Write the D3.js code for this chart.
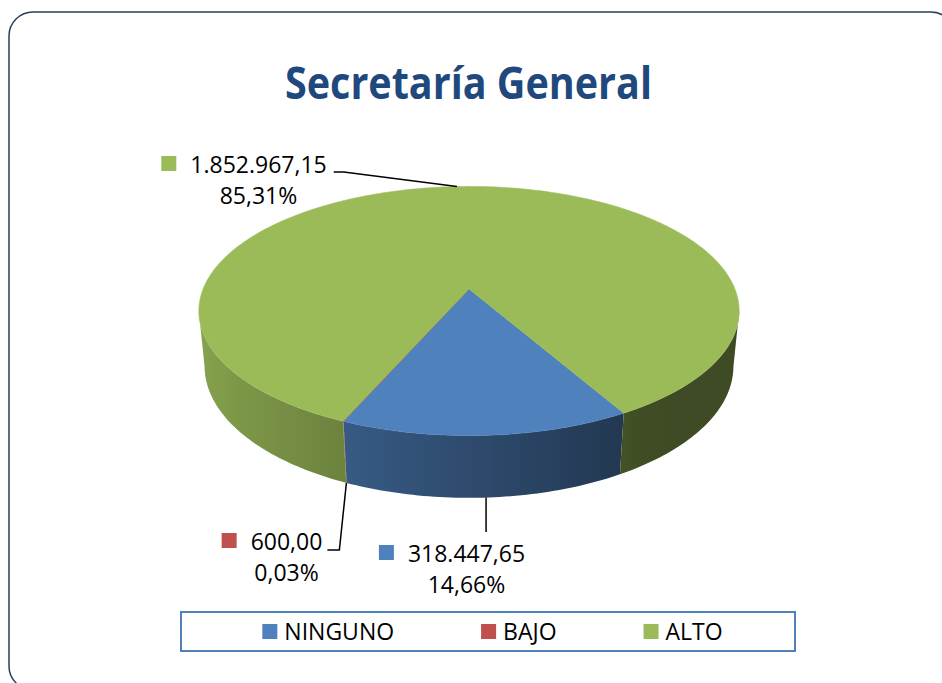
<!DOCTYPE html>
<meta charset="utf-8">
<title>Secretaría General</title>
<style>
  body { margin: 0; background: #fff; }
  text { font-family: "Open Sans", "DejaVu Sans", sans-serif; }
</style>
<body>
<script src="https://cdn.jsdelivr.net/npm/d3@7"></script>
<script>
  // chart data
  var chartTitle = "Secretaría General";
  var categories = ["NINGUNO", "BAJO", "ALTO"];
  var values = [318447.65, 600.00, 1852967.15];
  var valueLabels = ["318.447,65", "600,00", "1.852.967,15"];
  var percentLabels = ["14,66%", "0,03%", "85,31%"];
  var colors = ["#4F81BD", "#C0504D", "#9BBB59"];

  var width = 942, height = 683;

  var svg = d3.select("body").append("svg")
      .attr("width", width)
      .attr("height", height);
  var defs = svg.append("defs");

  // rounded outer frame (right and bottom edges run off the page)
  svg.append("rect")
      .attr("x", 9).attr("y", 12)
      .attr("width", 946).attr("height", 678)
      .attr("rx", 24).attr("ry", 24)
      .attr("fill", "#fff")
      .attr("stroke", "#243F60")
      .attr("stroke-width", 1.5);

  // title
  var titleText = svg.append("text")
      .attr("x", 468.5).attr("y", 99)
      .attr("text-anchor", "middle")
      .attr("font-size", 44)
      .attr("font-weight", "bold")
      .attr("fill", "#1F497D")
      .text(chartTitle);
  if (titleText.node().getComputedTextLength() > 367) {
    titleText.attr("textLength", 367).attr("lengthAdjust", "spacingAndGlyphs");
  }

  // 3d pie: perspective camera above and in front of the disk
  var tilt = 27 * Math.PI / 180, dist = 5.05, focal = 1343, thick = 0.235;
  var cx = 469, cy = 289;
  var startAngle = 150.5 * Math.PI / 180;

  function project(a, y) {
    var X = Math.sin(a), Z = -Math.cos(a);
    var yc = y * Math.cos(tilt) - Z * Math.sin(tilt);
    var d = dist - y * Math.sin(tilt) - Z * Math.cos(tilt);
    return [cx + focal * X / d, cy - focal * yc / d];
  }

  // light comes from the left
  function shade(c, a) {
    var k = Math.max(0.4, 0.58 + 0.30 * Math.cos(a - 1.5 * Math.PI));
    var rgb = d3.rgb(c);
    return d3.rgb(rgb.r * k, rgb.g * k, rgb.b * k).formatHex();
  }

  var pie = d3.pie().sort(null)
      .startAngle(startAngle)
      .endAngle(startAngle + 2 * Math.PI);
  var arcs = pie(values);

  // visible part of the side wall lies between the two silhouette angles
  var visLo = Math.acos(-Math.cos(tilt) / dist);
  var visHi = 2 * Math.PI - visLo;
  var walls = [];
  arcs.forEach(function(s, i) {
    [-2 * Math.PI, 0, 2 * Math.PI].forEach(function(shift) {
      var a0 = Math.max(s.startAngle, visLo + shift);
      var a1 = Math.min(s.endAngle, visHi + shift);
      if (a1 > a0) walls.push({a0: a0 - shift, a1: a1 - shift, i: i});
    });
  });

  var line = d3.line();
  var step = Math.PI / 180;

  function arcPoints(a0, a1, y) {
    var n = Math.max(2, Math.ceil((a1 - a0) / step));
    return d3.range(n + 1).map(function(j) { return project(a0 + (a1 - a0) * j / n, y); });
  }

  walls.forEach(function(w, k) {
    var id = "wall" + k;
    var x1 = project(w.a0, 0)[0], x2 = project(w.a1, 0)[0];
    var grad = defs.append("linearGradient")
        .attr("id", id)
        .attr("gradientUnits", "userSpaceOnUse")
        .attr("x1", x1).attr("y1", 0)
        .attr("x2", Math.abs(x2 - x1) < 0.5 ? x1 + 1 : x2).attr("y2", 0);
    d3.range(11).forEach(function(j) {
      var a = w.a0 + (w.a1 - w.a0) * j / 10;
      grad.append("stop")
          .attr("offset", Math.abs(x2 - x1) < 0.5 ? j / 10 : (project(a, 0)[0] - x1) / (x2 - x1))
          .attr("stop-color", shade(colors[w.i], a));
    });
    var pts = arcPoints(w.a0, w.a1, 0).concat(arcPoints(w.a0, w.a1, -thick).reverse());
    svg.append("path")
        .attr("d", line(pts) + "Z")
        .attr("fill", "url(#" + id + ")");
  });

  // top faces
  svg.append("g").selectAll("path")
      .data(arcs)
      .enter().append("path")
      .attr("d", function(s) {
        return line([[cx, cy]].concat(arcPoints(s.startAngle, s.endAngle, 0))) + "Z";
      })
      .attr("fill", function(s, i) { return colors[i]; })
      .attr("stroke", function(s, i) { return colors[i]; })
      .attr("stroke-width", 0.5);

  // data labels
  var labelLayout = [
    {x: 466.5, y: 562, leader: "down"},
    {x: 286.5, y: 550, leader: "side"},
    {x: 258.5, y: 173, leader: "top"}
  ];
  var fontSize = 23;

  arcs.forEach(function(s, i) {
    var pos = labelLayout[i];
    var mid = (s.startAngle + s.endAngle) / 2;
    var g = svg.append("g");
    var t = g.append("text")
        .attr("x", pos.x).attr("y", pos.y)
        .attr("text-anchor", "middle")
        .attr("font-size", fontSize)
        .attr("fill", "#000")
        .text(valueLabels[i]);
    g.append("text")
        .attr("x", pos.x).attr("y", pos.y + 31)
        .attr("text-anchor", "middle")
        .attr("font-size", fontSize)
        .attr("fill", "#000")
        .text(percentLabels[i]);
    var w = t.node().getComputedTextLength();
    g.append("rect")
        .attr("x", pos.x - w / 2 - 29).attr("y", pos.y - 17)
        .attr("width", 15).attr("height", 15)
        .attr("fill", colors[i]);

    var pts;
    if (pos.leader === "top") {
      pts = [[pos.x + w / 2 + 7, pos.y - 1], [pos.x + w / 2 + 17, pos.y - 1], project(mid, 0)];
    } else if (pos.leader === "side") {
      pts = [[pos.x + w / 2 + 5, pos.y], [pos.x + w / 2 + 17, pos.y], project(mid, -thick)];
    } else {
      var anchor = project(mid, -thick);
      pts = [[anchor[0], pos.y - 30], anchor];
    }
    g.append("path")
        .attr("d", line(pts))
        .attr("fill", "none")
        .attr("stroke", "#000")
        .attr("stroke-width", 1.5);
  });

  // legend
  var legend = svg.append("g");
  legend.append("rect")
      .attr("x", 181).attr("y", 612)
      .attr("width", 614).attr("height", 39)
      .attr("fill", "#fff")
      .attr("stroke", "#4F81BD")
      .attr("stroke-width", 2);

  var items = legend.selectAll("g.item")
      .data(categories)
      .enter().append("g").attr("class", "item");
  items.append("rect")
      .attr("y", 624).attr("width", 15).attr("height", 15)
      .attr("fill", function(d, i) { return colors[i]; });
  items.append("text")
      .attr("x", 22).attr("y", 640)
      .attr("font-size", fontSize)
      .attr("fill", "#000")
      .text(function(d) { return d; });

  var xPos = 0, offsets = [];
  items.each(function() {
    offsets.push(xPos);
    xPos += 22 + d3.select(this).select("text").node().getComputedTextLength() + 87;
  });
  var total = xPos - 87;
  var left = 492.5 - total / 2;
  items.attr("transform", function(d, i) { return "translate(" + (left + offsets[i]) + ",0)"; });
</script>
</body>
